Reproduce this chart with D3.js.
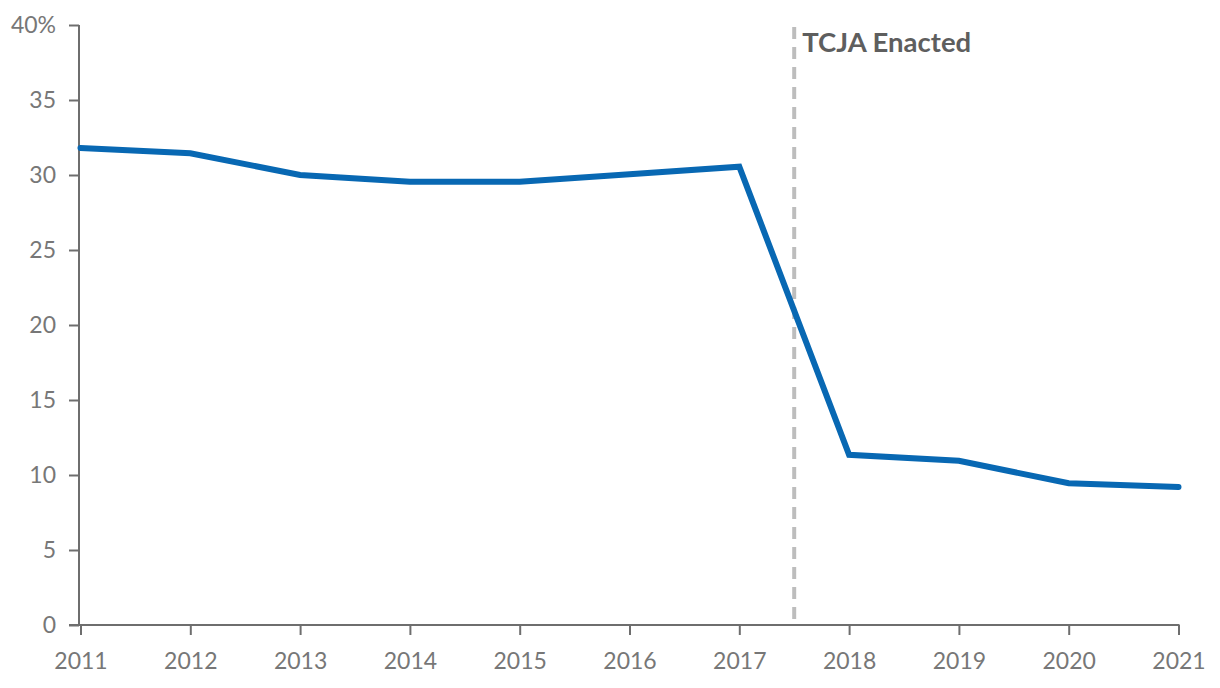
<!DOCTYPE html>
<html>
<head>
<meta charset="utf-8">
<script src="https://cdn.jsdelivr.net/npm/d3@7"></script>
<style>
  html, body { margin: 0; padding: 0; background: #fff; }
  svg { display: block; }
  text { font-family: Lato, "Open Sans", sans-serif; }
</style>
</head>
<body>
<svg id="chart" width="1220" height="688"></svg>
<script>
const years = [2011, 2012, 2013, 2014, 2015, 2016, 2017, 2018, 2019, 2020, 2021];
const rates = [31.8, 31.45, 30.0, 29.55, 29.55, 30.05, 30.55, 11.35, 10.95, 9.45, 9.2];
const yTicks = [0, 5, 10, 15, 20, 25, 30, 35, 40];
const markerYear = 2017.5;
const markerLabel = "TCJA Enacted";

const svg = d3.select("#chart");
const margin = { left: 79, right: 40, top: 25, bottom: 63 };

const x = d3.scaleLinear().domain([2011, 2021]).range([80.5, 1178.5]);
const y = d3.scaleLinear().domain([0, 40]).range([625, 25]);

// y axis
const yAxis = svg.append("g").attr("transform", `translate(${margin.left},0)`)
  .call(d3.axisLeft(y).tickValues(yTicks).tickSize(10).tickPadding(13)
    .tickFormat(d => d === 40 ? "40%" : d));
// x axis
const xAxis = svg.append("g").attr("transform", `translate(0,625)`)
  .call(d3.axisBottom(x).tickValues(years).tickSize(10).tickPadding(18).tickFormat(d3.format("d")));

[yAxis, xAxis].forEach(g => {
  g.select(".domain").attr("stroke", "#6e6e6e").attr("stroke-width", 2);
  g.selectAll(".tick line").attr("stroke", "#6e6e6e").attr("stroke-width", 2);
  g.selectAll(".tick text").attr("fill", "#777777").style("font-size", "23px")
    .style("font-family", "Lato, 'Open Sans', sans-serif");
});
yAxis.select(".domain").attr("d", `M0,${y(40)}V${y(0)}`);
xAxis.select(".domain").attr("d", `M${margin.left - 10},0H${x(2021) + 1}`);

// marker
svg.append("line")
  .attr("x1", x(markerYear)).attr("x2", x(markerYear))
  .attr("y1", y(40) + 2).attr("y2", y(0))
  .attr("stroke", "#bdbdbd").attr("stroke-width", 4)
  .attr("stroke-dasharray", "12,8");
svg.append("text")
  .attr("x", x(markerYear) + 8).attr("y", 52)
  .attr("fill", "#5e5e5e").style("font-size", "27.5px").style("font-weight", "bold")
  .text(markerLabel);

// line
const line = d3.line().x((d, i) => x(years[i])).y(d => y(d));
svg.append("path").datum(rates)
  .attr("d", line)
  .attr("fill", "none")
  .attr("stroke", "#0868b3")
  .attr("stroke-width", 6)
  .attr("stroke-linejoin", "miter")
  .attr("stroke-linecap", "round");
</script>
</body>
</html>
